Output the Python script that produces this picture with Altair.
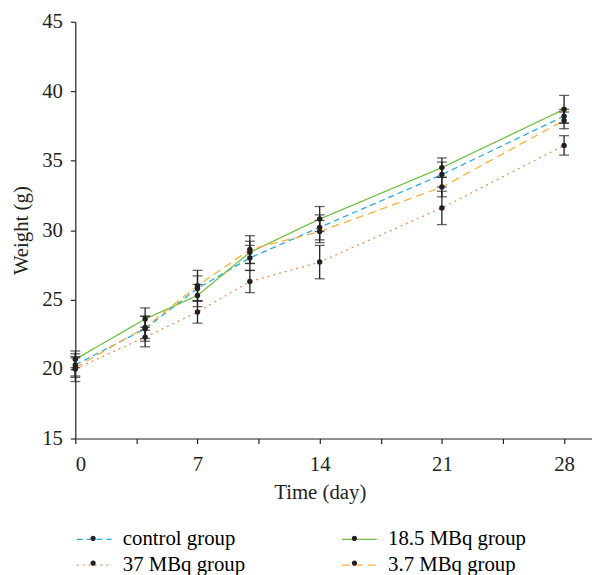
import altair as alt
import pandas as pd

days = [0, 4, 7, 10, 14, 21, 28]
groups = ["control group", "18.5 MBq group", "37 MBq group", "3.7 MBq group"]

control_mean = [20.3, 22.9, 25.8, 28.0, 30.2, 34.0, 38.2]
g185_mean = [20.7, 23.6, 25.3, 28.4, 30.8, 34.5, 38.7]
g37_mean = [20.0, 22.3, 24.1, 26.3, 27.7, 31.6, 36.1]
g3_7_mean = [20.1, 23.0, 26.0, 28.6, 29.9, 33.1, 37.9]

control_sd = [0.8, 0.9, 0.9, 0.9, 0.9, 0.9, 0.5]
g185_sd = [0.6, 0.8, 0.8, 0.8, 0.9, 0.7, 1.0]
g37_sd = [0.9, 0.7, 0.8, 0.8, 1.2, 1.2, 0.7]
g3_7_sd = [0.7, 0.8, 1.1, 1.0, 0.8, 0.7, 0.6]

x_ticks = [0, 3.5, 7, 10.5, 14, 17.5, 21, 24.5, 28]
y_ticks = [15, 17.5, 20, 22.5, 25, 27.5, 30, 32.5, 35, 37.5, 40, 42.5, 45]

colors = ["#29ABE2", "#72BF44", "#F58C4B", "#FBB03B"]
dashes = [[6, 4], [1, 0], [2, 4], [8, 5]]

# zero-width suffix keeps the dot legend separate from the line legend
ZW = "\u200b"
groups_dot = [g + ZW for g in groups]

means = [control_mean, g185_mean, g37_mean, g3_7_mean]
sds = [control_sd, g185_sd, g37_sd, g3_7_sd]
rows = []
for g, gd, m, s in zip(groups, groups_dot, means, sds):
    for d, mv, sv in zip(days, m, s):
        rows.append({"day": d, "group": g, "grp": gd, "mean": mv,
                     "lo": round(mv - sv, 2), "hi": round(mv + sv, 2)})
df = pd.DataFrame(rows)

FONT = "Liberation Serif"
FS = 21

x_enc = alt.X("day:Q", scale=alt.Scale(domain=[0, 29.6], nice=False, zero=False),
              axis=alt.Axis(values=x_ticks, title="Time (day)",
                            labelExpr="datum.value % 7 == 0 ? datum.label : ''",
                            titleX=247, titleAlign="center"))
y_scale = alt.Scale(domain=[15, 45], nice=False, zero=False)
y_axis = alt.Axis(values=y_ticks, title="Weight (g)",
                  labelExpr="datum.value % 5 == 0 ? datum.label : ''")

legend_common = dict(orient="none", legendX=7, legendY=511, columns=2,
                     direction="horizontal",
                     columnPadding=94, rowPadding=4, labelOffset=17,
                     labelFont=FONT, labelFontSize=FS, title=None,
                     symbolSize=484, padding=0)

line_legend = alt.Legend(symbolType="M-1.6,0L1.6,0", symbolStrokeWidth=1.3,
                         symbolFillColor="transparent", **legend_common)
dot_legend = alt.Legend(
    symbolType="M-1.6,0L1.6,0M0.24,0A0.24,0.24,0,1,1,-0.24,0A0.24,0.24,0,1,1,0.24,0Z",
    symbolStrokeWidth=0, labelColor="transparent", **legend_common)

base = alt.Chart(df)

lines = base.mark_line(strokeWidth=1.3).encode(
    x=x_enc,
    y=alt.Y("mean:Q", scale=y_scale, axis=y_axis),
    color=alt.Color("group:N", scale=alt.Scale(domain=groups, range=colors), legend=line_legend),
    strokeDash=alt.StrokeDash("group:N", scale=alt.Scale(domain=groups, range=dashes), legend=line_legend),
)

bars = base.mark_rule(color="#231F20", strokeWidth=1.3).encode(
    x="day:Q", y=alt.Y("lo:Q", scale=y_scale), y2="hi:Q")

cap_lo = base.mark_tick(orient="horizontal", size=10, thickness=1.3, color="#231F20").encode(
    x="day:Q", y=alt.Y("lo:Q", scale=y_scale))
cap_hi = base.mark_tick(orient="horizontal", size=10, thickness=1.3, color="#231F20").encode(
    x="day:Q", y=alt.Y("hi:Q", scale=y_scale))

points = base.mark_circle(size=30, opacity=1).encode(
    x="day:Q", y=alt.Y("mean:Q", scale=y_scale),
    fill=alt.Fill("grp:N", scale=alt.Scale(domain=groups_dot, range=["#231F20"] * 4), legend=dot_legend),
)

chart = alt.layer(lines, bars, cap_lo, cap_hi, points).properties(
    width=522, height=421,
    autosize=alt.AutoSizeParams(type="none"),
    padding={"left": 68, "top": 11, "right": 0, "bottom": 135},
).configure_view(stroke=None).configure_axis(
    grid=False, domainColor="#231F20", tickColor="#231F20", labelColor="#231F20",
    titleColor="#231F20", labelFont=FONT, titleFont=FONT, labelFontSize=FS,
    titleFontSize=FS, titleFontWeight="normal", tickSize=5, domainWidth=1.2, tickWidth=1.2,
).configure_axisX(labelPadding=10, titlePadding=8).configure_axisY(labelPadding=8, titlePadding=10)

chart.save("out.html", embed_options={"renderer": "svg", "actions": False})
